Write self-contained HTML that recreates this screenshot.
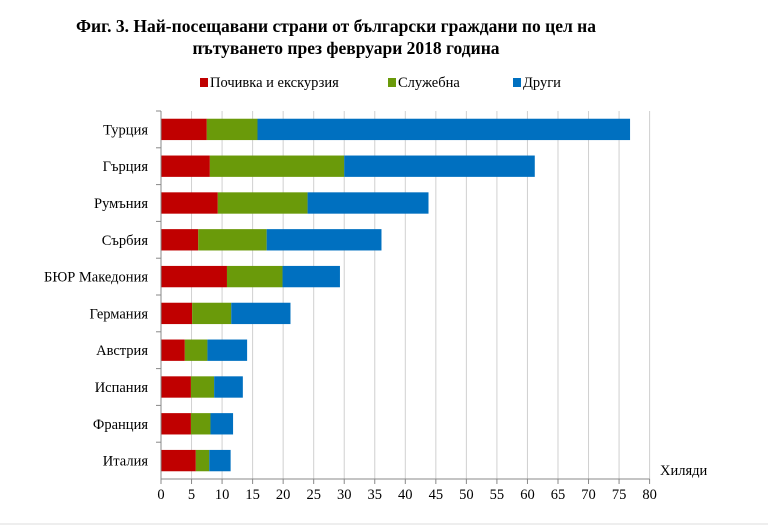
<!DOCTYPE html>
<html><head><meta charset="utf-8"><style>
body{margin:0;background:#fff;}
svg text{font-family:"Liberation Serif","DejaVu Serif",serif;}
</style></head><body>
<svg width="768" height="525" xmlns="http://www.w3.org/2000/svg">
<g>
<text x="336" y="32" text-anchor="middle" font-size="17.5" font-weight="bold" fill="#000">Фиг. 3. Най-посещавани страни от български граждани по цел на</text>
<text x="346" y="54" text-anchor="middle" font-size="17.5" font-weight="bold" fill="#000">пътуването през февруари 2018 година</text>
</g>
<g>
<g><rect x="200" y="78" width="8" height="9" fill="#c00000"/><text x="210" y="87" font-size="14.5">Почивка и екскурзия</text></g>
<g><rect x="388" y="78" width="8" height="9" fill="#6a9a0a"/><text x="398" y="87" font-size="14.5">Служебна</text></g>
<g><rect x="513" y="78" width="8" height="9" fill="#0070c0"/><text x="523" y="87" font-size="14.5">Други</text></g>
</g>
<g id="grid"></g>
<g id="bars"></g>
<g id="axes"></g>
<text x="660" y="475" font-size="14.5">Хиляди</text>
<line x1="0" y1="524" x2="768" y2="524" stroke="#ddd"/>
</svg>
<script>
const categories=["Турция","Гърция","Румъния","Сърбия","БЮР Македония","Германия","Австрия","Испания","Франция","Италия"];
const leisure=[7.5,8.0,9.3,6.1,10.8,5.1,3.9,4.9,4.9,5.7];
const business=[8.3,22.0,14.7,11.2,9.1,6.4,3.7,3.8,3.2,2.2];
const other=[61.0,31.2,19.8,18.8,9.4,9.7,6.5,4.7,3.7,3.5];
const xTicks=[0,5,10,15,20,25,30,35,40,45,50,55,60,65,70,75,80];
const NS="http://www.w3.org/2000/svg";
const x0=161,x1=649.6,xmax=80,plotTop=111,plotBottom=479;
const band=(plotBottom-plotTop)/categories.length;
function xs(v){return x0+v/xmax*(x1-x0);}
function yb(i){return plotTop+i*band;}
function mk(tag,attrs,parent){const e=document.createElementNS(NS,tag);for(const k in attrs)e.setAttribute(k,attrs[k]);parent.appendChild(e);return e;}
const grid=document.getElementById('grid'),bars=document.getElementById('bars'),axes=document.getElementById('axes');
xTicks.forEach(t=>{
 if(t>0){const g=mk('line',{x1:xs(t),x2:xs(t),y1:plotTop,y2:plotBottom,stroke:'#d0d0d0','stroke-width':1},grid);
 
 }
 const tk=mk('line',{x1:xs(t),x2:xs(t),y1:plotBottom,y2:plotBottom+5,stroke:'#888'},axes);
 
 
 const tl=mk('text',{x:xs(t),y:plotBottom+20,'text-anchor':'middle','font-size':'14.5'},axes);
 tl.textContent=t;
 
 
});
const series=[[leisure,'#c00000','leisure'],[business,'#6a9a0a','business'],[other,'#0070c0','other']];
categories.forEach((c,i)=>{
 let acc=0;const h=band*0.58,y=yb(i)+(band-h)/2;
 series.forEach(([arr,col,nm])=>{
  const r=mk('rect',{x:xs(acc),y:y,width:xs(acc+arr[i])-xs(acc),height:h,fill:col},bars);
  
  
  acc+=arr[i];
 });
 const lb=mk('text',{x:x0-13,y:yb(i)+band/2+5,'text-anchor':'end','font-size':'14.5'},axes);
 lb.textContent=c;
 
 
 const tk=mk('line',{x1:x0-5,x2:x0,y1:yb(i),y2:yb(i),stroke:'#888'},axes);
 
 
});
const ya=mk('line',{x1:x0,x2:x0,y1:plotTop,y2:plotBottom,stroke:'#888'},axes);


const xa=mk('line',{x1:x0,x2:x1,y1:plotBottom,y2:plotBottom,stroke:'#888'},axes);


</script>
</body></html>
